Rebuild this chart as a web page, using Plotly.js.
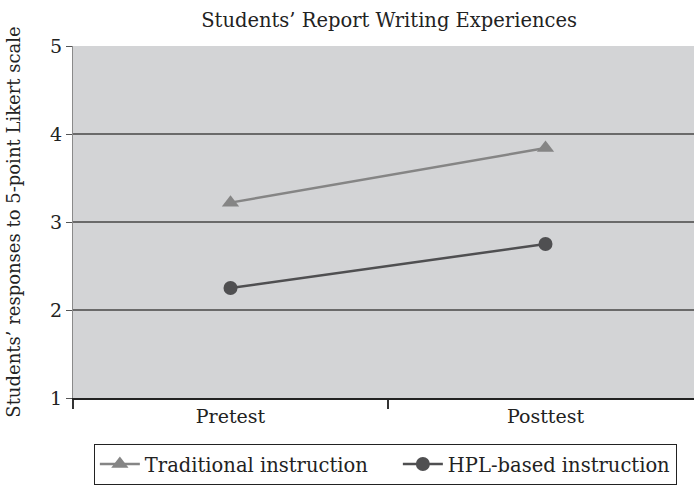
<!DOCTYPE html>
<html>
<head>
<meta charset="utf-8">
<script src="https://cdn.plot.ly/plotly-3.0.1.min.js"></script>
<style>html,body{margin:0;padding:0;background:#fff;}#chart{width:694px;height:485px;}</style>
</head>
<body>
<div id="chart"></div>
<script>
const categories = ["Pretest", "Posttest"];
const traditional = [3.22, 3.84];
const hpl = [2.25, 2.75];
const seriesNames = ["Traditional instruction", "HPL-based instruction"];
const yTicks = [1, 2, 3, 4, 5];

const FONT = "DejaVu Serif, serif";

const traces = [
  {
    x: categories, y: traditional, name: seriesNames[0], type: "scatter", mode: "lines+markers",
    line: {color: "#858585", width: 2.5},
    marker: {symbol: "triangle-up", size: 15, color: "#858585"},
    legendwidth: 248
  },
  {
    x: categories, y: hpl, name: seriesNames[1], type: "scatter", mode: "lines+markers",
    line: {color: "#4f4f51", width: 2.5},
    marker: {symbol: "circle", size: 14, color: "#4f4f51"}
  }
];

const layout = {
  width: 694, height: 485,
  margin: {l: 73, r: 0, t: 46, b: 85},
  paper_bgcolor: "#ffffff",
  plot_bgcolor: "#d3d4d6",
  font: {family: FONT, size: 18, color: "#222"},
  title: {
    text: "Students’ Report Writing Experiences",
    font: {family: FONT, size: 19.5, color: "#222"},
    x: 0.509, xref: "paper", xanchor: "center", y: 0.958, yanchor: "middle"
  },
  xaxis: {
    type: "category",
    range: [-0.5, 1.5 - 9/315],
    showline: true, linecolor: "#222", linewidth: 2,
    ticks: "outside", tickson: "boundaries", ticklen: 9, tickcolor: "#333", tickwidth: 1.5,
    showgrid: false, zeroline: false,
    tickfont: {family: FONT, size: 19, color: "#222"}
  },
  yaxis: {
    range: [1, 5],
    tickvals: yTicks,
    ticktext: yTicks.map(String),
    showline: true, linecolor: "#8a8a8a", linewidth: 1,
    ticks: "outside", ticklen: 6, tickcolor: "#555", tickwidth: 1,
    showgrid: true, gridcolor: "#6a6a6a", gridwidth: 1.5,
    zeroline: false,
    tickfont: {family: FONT, size: 19, color: "#222"},
    title: {text: "Students’ responses to 5-point Likert scale", font: {family: FONT, size: 18, color: "#222"}, standoff: 24}
  },
  showlegend: true,
  legend: {
    orientation: "h",
    x: 0.503, xanchor: "center",
    y: -0.13, yanchor: "top",
    bordercolor: "#222", borderwidth: 1,
    font: {family: FONT, size: 19.5, color: "#222"},
    itemwidth: 40
  }
};

Plotly.newPlot("chart", traces, layout, {displayModeBar: false, staticPlot: true});
</script>
</body>
</html>
